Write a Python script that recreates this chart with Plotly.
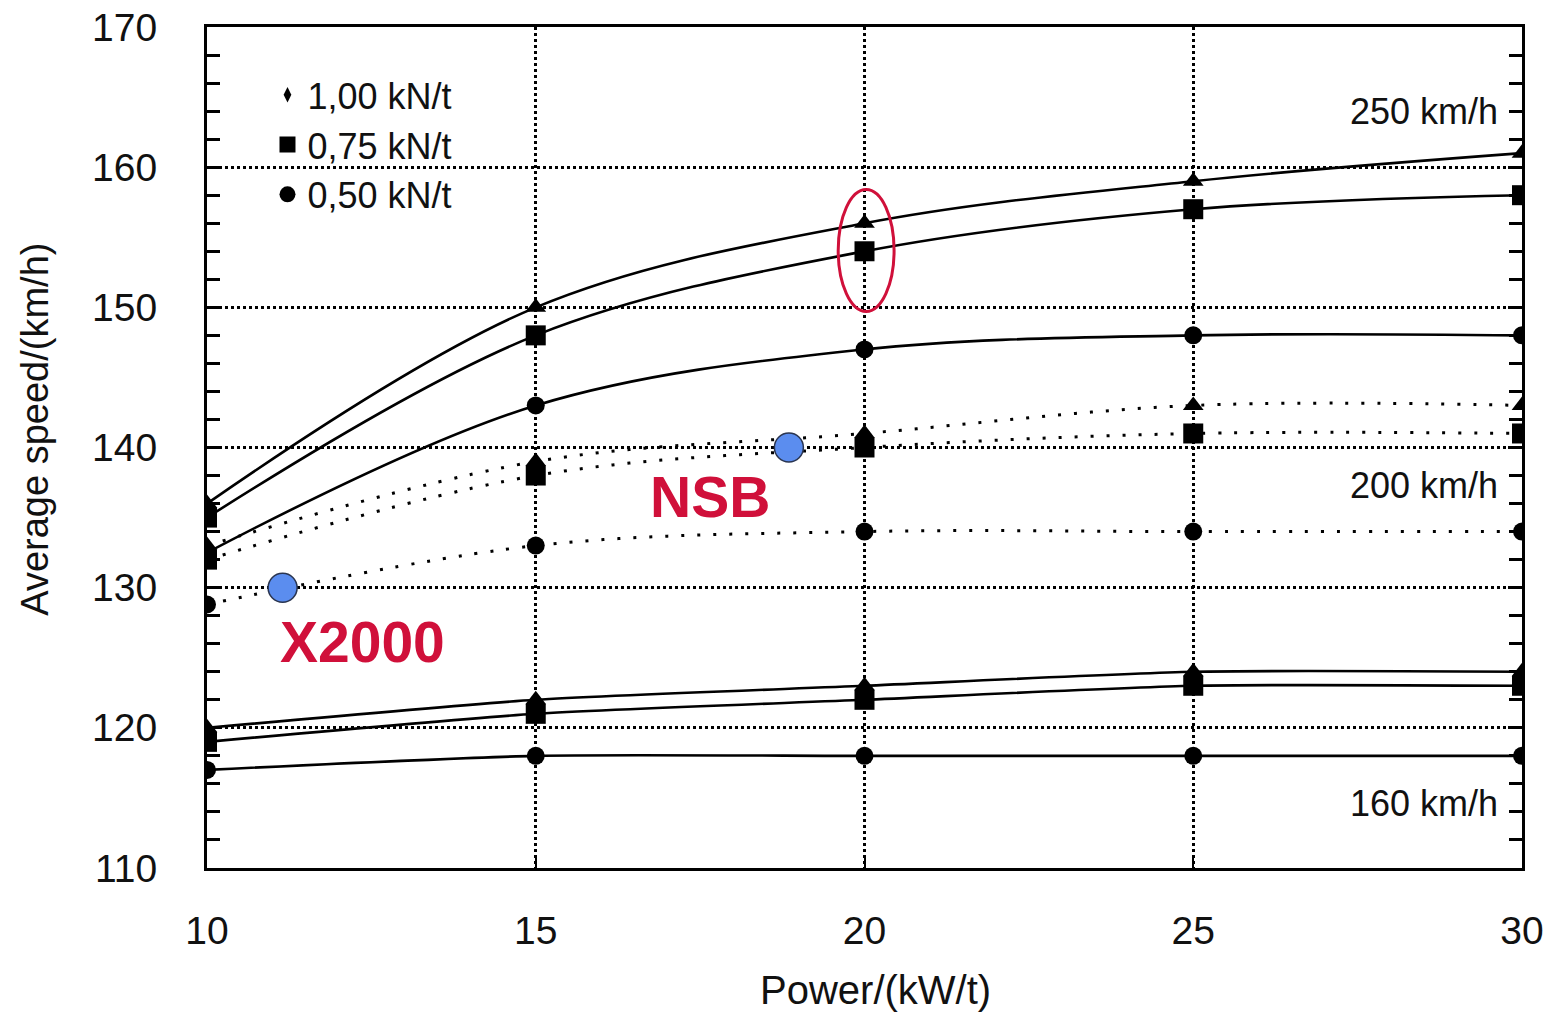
import plotly.graph_objects as go

# ---- data ----
power = [10, 15, 20, 25, 30]

v250_100 = [136.0, 150.0, 156.0, 159.0, 161.0]
v250_075 = [135.0, 148.0, 154.0, 157.0, 158.0]
v250_050 = [132.5, 143.0, 147.0, 148.0, 148.0]

v200_100 = [133.0, 139.0, 141.0, 143.0, 143.0]
v200_075 = [132.0, 138.0, 140.0, 141.0, 141.0]
v200_050 = [128.8, 133.0, 134.0, 134.0, 134.0]

v160_100 = [120.0, 122.0, 123.0, 124.0, 124.0]
v160_075 = [119.0, 121.0, 122.0, 123.0, 123.0]
v160_050 = [117.0, 118.0, 118.0, 118.0, 118.0]

legend_labels = ["1,00 kN/t", "0,75 kN/t", "0,50 kN/t"]
legend_symbols = ["diamond-tall", "square", "circle"]

train_names = ["X2000", "NSB"]
train_power = [11.15, 18.85]
train_speed = [130.0, 140.0]
train_label_x = [12.37, 17.65]
train_label_y = [126.1, 136.5]

speed_labels = ["250 km/h", "200 km/h", "160 km/h"]
speed_label_y = [164.0, 137.3, 114.6]

FONT = "Liberation Sans, Arial, sans-serif"
BLACK = "#111111"
RED = "#d0103a"

fig = go.Figure()

groups = [
    (v250_100, v250_075, v250_050, "solid", 1.0),
    (v200_100, v200_075, v200_050, "3px,13px", 1.0),
    (v160_100, v160_075, v160_050, "solid", 0.6),
]
syms = ["triangle-up", "square", "circle"]
msizes = [18, 20, 18]
for g in groups:
    for i, ys in enumerate(g[:3]):
        fig.add_trace(go.Scatter(
            x=power, y=ys, mode="lines+markers", showlegend=False,
            line=dict(color="black", width=3 if g[3] != "solid" else 2.6,
                      dash=g[3], shape="spline", smoothing=g[4]),
            marker=dict(symbol=syms[i], size=msizes[i], color="black"),
            hoverinfo="skip"))

# blue train points
fig.add_trace(go.Scatter(
    x=train_power, y=train_speed, mode="markers", showlegend=False,
    marker=dict(symbol="circle", size=29, color="#5b8def",
                line=dict(color="#2a3550", width=1.5))))

# legend-only traces
lsizes = [11, 16, 16]
for lab, sym, s in zip(legend_labels, legend_symbols, lsizes):
    fig.add_trace(go.Scatter(
        x=[None], y=[None], mode="markers", name=lab,
        marker=dict(symbol=sym, size=s, color="black")))

for name, lx, ly in zip(train_names, train_label_x, train_label_y):
    fig.add_annotation(x=lx, y=ly, text="<b>%s</b>" % name, showarrow=False,
                       font=dict(family=FONT, size=57, color=RED),
                       xanchor="center", yanchor="middle")

for lab, ly in zip(speed_labels, speed_label_y):
    fig.add_annotation(x=29.67, y=ly, text=lab, showarrow=False,
                       font=dict(family=FONT, size=36, color=BLACK),
                       xanchor="right", yanchor="middle")

# red ellipse
fig.add_shape(type="circle", xref="x", yref="y", x0=19.6, x1=20.45,
              y0=149.7, y1=158.4, line=dict(color=RED, width=3))

# axis titles
fig.add_annotation(xref="paper", yref="paper", x=0.508, y=-0.145,
                   text="Power/(kW/t)", showarrow=False,
                   font=dict(family=FONT, size=40, color=BLACK),
                   xanchor="center", yanchor="middle")
fig.add_annotation(xref="paper", yref="paper", x=-0.131, y=0.522,
                   text="Average speed/(km/h)", showarrow=False, textangle=-90,
                   font=dict(family=FONT, size=38, color=BLACK),
                   xanchor="center", yanchor="middle")

fig.update_xaxes(
    range=[10, 30], tickvals=[10, 15, 20, 25, 30], showline=True,
    linecolor="black", linewidth=3, mirror=True, ticks="inside",
    ticklen=10, tickwidth=2, tickcolor="black",
    showgrid=True, gridcolor="black", gridwidth=3, griddash="dot",
    zeroline=False, ticklabelstandoff=26, ticklabeloverflow="allow",
    automargin=False,
    tickfont=dict(family=FONT, size=39, color=BLACK))
fig.update_yaxes(
    range=[110, 170], dtick=10, showline=True,
    linecolor="black", linewidth=3, mirror="allticks", ticks="inside",
    ticklen=14, tickwidth=2.5, tickcolor="black",
    showgrid=True, gridcolor="black", gridwidth=3, griddash="dot",
    zeroline=False, ticklabelstandoff=39, ticklabeloverflow="allow",
    automargin=False,
    minor=dict(dtick=2, ticks="inside", ticklen=13, tickwidth=2.5,
               tickcolor="black", showgrid=False),
    tickfont=dict(family=FONT, size=39, color=BLACK))

fig.update_layout(
    width=1557, height=1016,
    margin=dict(l=207, r=35, t=27, b=148, autoexpand=False),
    plot_bgcolor="white", paper_bgcolor="white",
    showlegend=True,
    legend=dict(x=0.046, y=0.955, xanchor="left", yanchor="top",
                bgcolor="rgba(0,0,0,0)", font=dict(family=FONT, size=36, color=BLACK),
                tracegroupgap=0, itemwidth=30),
)

fig.write_html("out.html",
               config={"displayModeBar": False},
               post_script="document.body.style.margin='0';document.body.style.overflow='hidden';")
